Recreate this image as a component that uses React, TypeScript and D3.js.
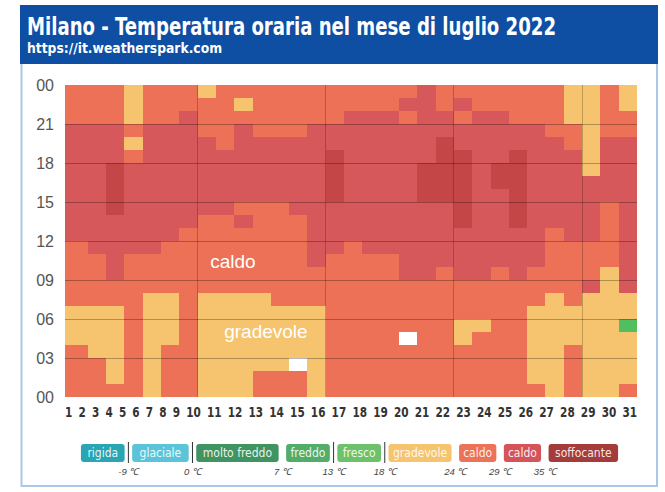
import React from "react";
import * as d3 from "d3";

// ---------------- DATA ----------------
const days: number[] = [
  1, 2, 3, 4, 5, 6, 7, 8, 9, 10, 11, 12, 13, 14, 15, 16,
  17, 18, 19, 20, 21, 22, 23, 24, 25, 26, 27, 28, 29, 30, 31,
];

const hourTickValues: number[] = [0, 3, 6, 9, 12, 15, 18, 21, 24];
const hourTickLabels: string[] = ["00", "03", "06", "09", "12", "15", "18", "21", "00"];

// first day of each new week (vertical guide lines)
const weekStarts: number[] = [8, 15, 22, 29];

// Category per hour, one string per day, hours 00 -> 23
// Y = gradevole, O = caldo (24-29), R = caldo (29-35), D = caldo (hottest), G = fresco, W = no data
const hourlyCategory: string[] = [
  "OOOOYYYOOOOORRRRRRRRROOO", // 1
  "OOOYYYYOOOORRRRRRRRRROOO", // 2
  "OYYYYYYOORRRRRDDDDRRROOO", // 3
  "OOOOOOOOOOORRRRRRROYOYYY", // 4
  "YYYYYYYYOOORRRRRRRRRROOO", // 5
  "OOOOYYYYOOOORRRRRRRRROOO", // 6
  "OOOOOOOOOOOOORRRRRRRRROO", // 7
  "YYYYYYYYOOOOOORRRRRROOOY", // 8
  "YYYYYYYYOOOOOORRRRROOOOO", // 9
  "YYYYYYYYOOOOORORRRRRROYO", // 10
  "OOYYYYYYOOOOOOORRRRROOOO", // 11
  "OOYYYYYOOOOOOOORRRRROOOO", // 12
  "OOWYYYYOOOOOOORRRRRROOOO", // 13
  "YYYYYYYOOORRRRRRRRRRROOO", // 14
  "OOOOOOOOOOORRRRDDDDRROOO", // 15
  "OOOOOOOOOOOORRRRRRRRRROO", // 16
  "OOOOOOOOOOORRRRRRRRRRROO", // 17
  "OOOOOOOOOOORRRRRRRRRRROO", // 18
  "OOOOWOOOORRRRRRRRRRRRORO", // 19
  "OOOOOOOOORRRRRRDDDRRRRRR", // 20
  "OOOOOOOOOORRRRRDDDDDRROO", // 21
  "OOOOYYOOORRRRDDDDDDRRORO", // 22
  "OOOOOYOOORRRRRRRRRRRRROO", // 23
  "OOOOOOOOOORRRRRRDDRRRROO", // 24
  "OOOOOOOOORRRRDDDDDDRROOO", // 25
  "OYYYYYYOOORRRRRRRRRRROOO", // 26
  "YYYYYYYYOOOOORRRRRRROOOO", // 27
  "OOOOYYYOOOOORRRRRRROOYYY", // 28
  "YYYYYYYYROOORRRRRYYYYYYY", // 29
  "YYYYYYYYYYOOOOORRRRROOOO", // 30
  "OYYYYGYYRRRRRRRRRRRROOYY", // 31
];

const categoryCodes: string[] = ["Y", "O", "R", "D", "G", "W"];
const categoryFill: string[] = ["#F6C46E", "#EC7156", "#D6585A", "#C44646", "#52BE62", "#FFFFFF"];

// area labels placed on the heatmap (day, hour position)
const areaLabels: string[] = ["caldo", "gradevole"];
const areaLabelDay: number[] = [9.93, 11.73];
const areaLabelHour: number[] = [9.95, 4.55];

// legend
const legendLabels: string[] = [
  "rigida", "glaciale", "molto freddo", "freddo", "fresco",
  "gradevole", "caldo", "caldo", "soffocante",
];
const legendColors: string[] = [
  "#2AA5B4", "#5CC4D9", "#3F9462", "#52AD6B", "#6CC16A",
  "#F6C46E", "#EC7357", "#D5545A", "#A63B3B",
];
const thresholdLabels: string[] = ["-9 ℃", "0 ℃", "7 ℃", "13 ℃", "18 ℃", "24 ℃", "29 ℃", "35 ℃"];
const thresholdSeparator: boolean[] = [true, true, false, true, true, false, false, false];

const titleText = "Milano - Temperatura oraria nel mese di luglio 2022";
const subtitleText = "https://it.weatherspark.com";

// ---------------- CHART ----------------
export default function App() {
  const width = 665;
  const height = 492;
  const plotLeft = 65;
  const colStart = 69.5;
  const plotRight = 637;
  const plotTop = 85;
  const plotBottom = 397;

  const fontN =
    "'Liberation Sans Narrow','Arial Narrow','DejaVu Sans Condensed','Liberation Sans',Arial,sans-serif";
  const fontR = "'Liberation Sans',Arial,sans-serif";

  const x = d3
    .scaleBand<number>()
    .domain(days)
    .range([colStart, plotRight])
    .paddingInner(0)
    .paddingOuter(0);
  const xLin = d3.scaleLinear().domain([1, days.length + 1]).range([colStart, plotRight]);
  const y = d3.scaleLinear().domain([0, 24]).range([plotBottom, plotTop]);
  const color = d3.scaleOrdinal<string, string>().domain(categoryCodes).range(categoryFill);

  const cells: React.ReactNode[] = [];
  days.forEach((d, i) => {
    const codes = hourlyCategory[i];
    const xs = i === 0 ? plotLeft : (x(d) as number);
    const xe = (x(d) as number) + x.bandwidth();
    for (let h = 0; h < 24; h++) {
      cells.push(
        <rect
          key={`c-${d}-${h}`}
          x={xs}
          y={y(h + 1)}
          width={xe - xs}
          height={y(h) - y(h + 1)}
          fill={color(codes[h])}
          shapeRendering="crispEdges"
        />
      );
    }
  });

  // x labels laid out as a flowing row
  const digitW = 7.3;
  const totalDigits = d3.sum(days, (d) => String(d).length);
  const labelGap = (plotRight - plotLeft - totalDigits * digitW) / (days.length - 1);
  let cursor = plotLeft;
  const xLabelCenters = days.map((d) => {
    const w = String(d).length * digitW;
    const c = cursor + w / 2;
    cursor += w + labelGap;
    return c;
  });

  // legend layout
  const charW = 6.45;
  const pillPad = 5;
  const pillGap = 7.5;
  const pillWidths = legendLabels.map((l) => l.length * charW + pillPad);
  const legendTotal = d3.sum(pillWidths) + pillGap * (legendLabels.length - 1);
  const legendCenter = 349.5;
  let lx = legendCenter - legendTotal / 2;
  const pillX = pillWidths.map((w) => {
    const v = lx;
    lx += w + pillGap;
    return v;
  });
  const pillTop = 444;
  const pillH = 18;

  return (
    <svg
      width={width}
      height={height}
      style={{ position: "absolute", left: 0, top: 0, background: "#fff" }}
    >
      <rect x={0} y={0} width={width} height={height} fill="#fff" />
      {/* frame */}
      <rect x={21.5} y={62} width={635.5} height={424} fill="#fff" stroke="#A8C8E8" strokeWidth={2} />
      {/* header */}
      <rect x={20} y={5} width={638} height={59} fill="#0E4EA3" />
      <text
        x={27}
        y={35}
        fill="#fff"
        fontFamily={fontN}
        fontWeight="bold"
        fontSize={24}
        textLength={529}
        lengthAdjust="spacingAndGlyphs"
      >
        {titleText}
      </text>
      <text
        x={27}
        y={53}
        fill="#fff"
        fontFamily={fontN}
        fontWeight="bold"
        fontSize={14}
        textLength={195}
        lengthAdjust="spacingAndGlyphs"
      >
        {subtitleText}
      </text>

      {/* heatmap */}
      <g>{cells}</g>

      {/* horizontal grid */}
      {hourTickValues
        .filter((v) => v > 0 && v < 24)
        .map((v) => (
          <line
            key={`hg-${v}`}
            x1={plotLeft}
            x2={plotRight}
            y1={y(v)}
            y2={y(v)}
            stroke="#000"
            strokeOpacity={0.28}
            strokeWidth={1}
            shapeRendering="crispEdges"
          />
        ))}
      {/* week lines */}
      {weekStarts.map((d) => (
        <line
          key={`vg-${d}`}
          x1={x(d) as number}
          x2={x(d) as number}
          y1={plotTop}
          y2={plotBottom}
          stroke="#000"
          strokeOpacity={0.22}
          strokeWidth={1}
          shapeRendering="crispEdges"
        />
      ))}

      {/* area labels */}
      {areaLabels.map((t, i) => (
        <text
          key={`al-${i}`}
          x={xLin(areaLabelDay[i])}
          y={y(areaLabelHour[i])}
          textAnchor="middle"
          fill="#fff"
          fontFamily={fontR}
          fontSize={19}
        >
          {t}
        </text>
      ))}

      {/* y axis labels */}
      {hourTickValues.map((v, i) => (
        <text
          key={`yl-${i}`}
          x={54}
          y={y(v)}
          dy="0.36em"
          textAnchor="end"
          fill="#555"
          fontFamily={fontR}
          fontSize={16}
        >
          {hourTickLabels[i]}
        </text>
      ))}

      {/* x axis labels */}
      {days.map((d, i) => (
        <text
          key={`xl-${d}`}
          x={xLabelCenters[i]}
          y={417}
          textAnchor="middle"
          fill="#333"
          fontFamily={fontN}
          fontWeight="bold"
          fontSize={14}
          textLength={String(d).length * digitW}
          lengthAdjust="spacingAndGlyphs"
        >
          {d}
        </text>
      ))}

      {/* legend */}
      {legendLabels.map((l, i) => (
        <g key={`lg-${i}`}>
          <rect
            x={pillX[i]}
            y={pillTop}
            width={pillWidths[i]}
            height={pillH}
            rx={3}
            fill={legendColors[i]}
          />
          <text
            x={pillX[i] + pillWidths[i] / 2}
            y={pillTop + pillH / 2}
            dy="0.35em"
            textAnchor="middle"
            fill="#fff"
            fillOpacity={0.9}
            fontFamily={fontN}
            fontSize={12}
          >
            {l}
          </text>
        </g>
      ))}
      {thresholdLabels.map((t, i) => {
        const bx = pillX[i] + pillWidths[i] + pillGap / 2;
        return (
          <g key={`th-${i}`}>
            {thresholdSeparator[i] && (
              <line
                x1={bx}
                x2={bx}
                y1={pillTop - 2}
                y2={pillTop + pillH + 1}
                stroke="#333"
                strokeWidth={1}
              />
            )}
            <text
              x={bx}
              y={475}
              textAnchor="middle"
              fill="#444"
              fontFamily={fontR}
              fontStyle="italic"
              fontSize={9.5}
            >
              {t}
            </text>
          </g>
        );
      })}
    </svg>
  );
}
